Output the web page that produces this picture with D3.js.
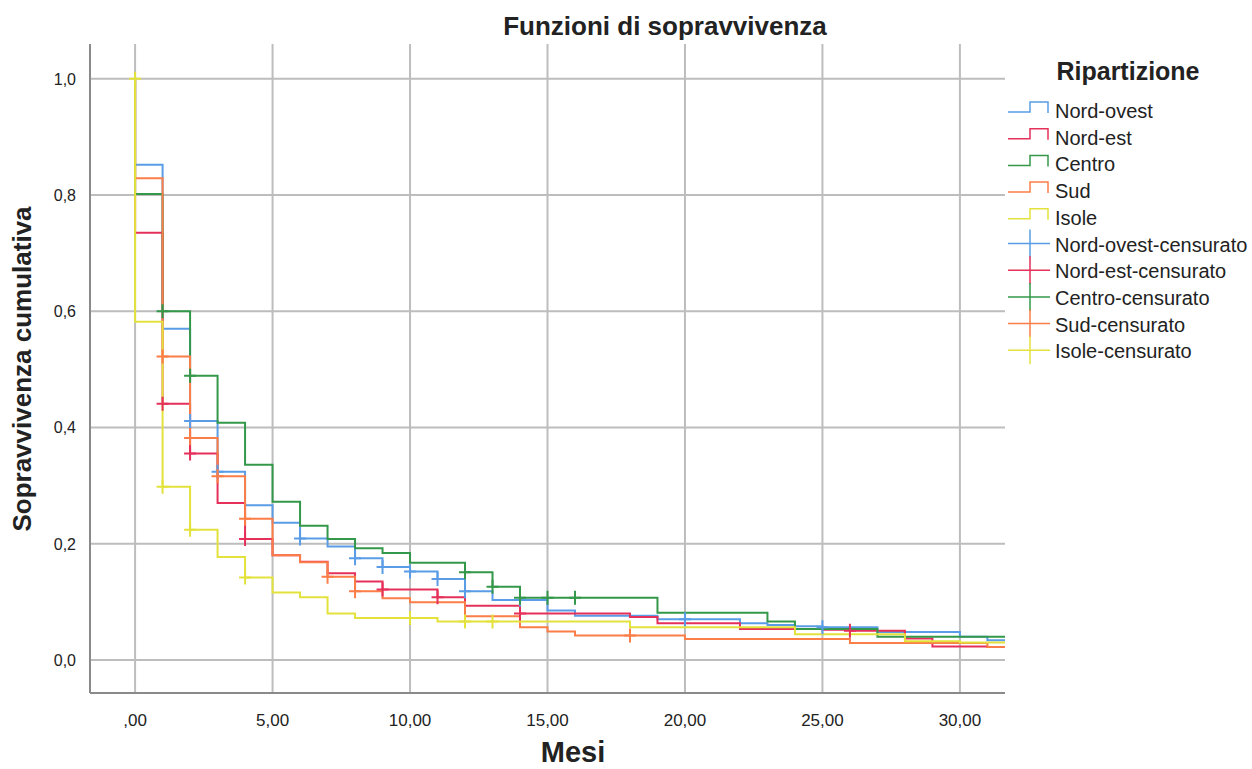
<!DOCTYPE html>
<html>
<head>
<meta charset="utf-8">
<script src="https://cdn.jsdelivr.net/npm/d3@7"></script>
<style>
  body { margin: 0; background: #fff; }
  text { font-family: "Liberation Sans", Arial, sans-serif; fill: #222; }
</style>
</head>
<body>
<svg id="chart" width="1252" height="769"></svg>
<script>
// survival estimate for months 0..31 (value holds from month k to k+1)
var months = d3.range(0, 32);
var nordOvest = [0.852, 0.570, 0.411, 0.324, 0.266, 0.236, 0.209, 0.195, 0.175, 0.160, 0.152, 0.139, 0.118, 0.103, 0.103, 0.085, 0.076, 0.076, 0.076, 0.070, 0.070, 0.070, 0.063, 0.060, 0.058, 0.056, 0.056, 0.048, 0.048, 0.048, 0.040, 0.034];
var nordEst   = [0.735, 0.441, 0.355, 0.270, 0.208, 0.180, 0.169, 0.149, 0.135, 0.121, 0.121, 0.108, 0.093, 0.093, 0.080, 0.080, 0.080, 0.080, 0.074, 0.063, 0.063, 0.063, 0.053, 0.053, 0.053, 0.052, 0.050, 0.050, 0.037, 0.023, 0.023, 0.022];
var centro    = [0.802, 0.600, 0.489, 0.408, 0.336, 0.272, 0.231, 0.208, 0.192, 0.184, 0.167, 0.167, 0.151, 0.126, 0.107, 0.107, 0.107, 0.107, 0.107, 0.081, 0.081, 0.081, 0.081, 0.066, 0.053, 0.053, 0.053, 0.040, 0.040, 0.040, 0.040, 0.040];
var sud       = [0.829, 0.522, 0.382, 0.316, 0.243, 0.180, 0.168, 0.143, 0.118, 0.106, 0.099, 0.099, 0.075, 0.075, 0.056, 0.049, 0.042, 0.042, 0.042, 0.042, 0.036, 0.036, 0.036, 0.036, 0.036, 0.036, 0.029, 0.029, 0.029, 0.029, 0.029, 0.022];
var isole     = [0.582, 0.298, 0.224, 0.177, 0.142, 0.116, 0.108, 0.080, 0.072, 0.072, 0.072, 0.066, 0.066, 0.066, 0.066, 0.066, 0.066, 0.066, 0.056, 0.056, 0.056, 0.056, 0.056, 0.056, 0.044, 0.044, 0.044, 0.044, 0.032, 0.032, 0.030, 0.030];

// months with censored cases
var censNordOvest = [2, 3, 6, 8, 9, 10, 11, 12, 14, 20, 25];
var censNordEst   = [1, 2, 4, 9, 11, 14, 26];
var censCentro    = [1, 2, 12, 13, 14, 15, 16];
var censSud       = [1, 2, 3, 4, 7, 8, 18];
var censIsole     = [1, 2, 4, 10, 12, 13];

var groupNames = ["Nord-ovest", "Nord-est", "Centro", "Sud", "Isole"];
var groupColors = ["#5a9de6", "#e5305a", "#34984a", "#fb7d47", "#e3e23c"];
var xTicks = [0, 5, 10, 15, 20, 25, 30];
var yTicks = [0, 0.2, 0.4, 0.6, 0.8, 1.0];

var series = [nordOvest, nordEst, centro, sud, isole];
var censored = [censNordOvest, censNordEst, censCentro, censSud, censIsole];

var svg = d3.select("#chart");
var pLeft = 90, pRight = 1005, pTop = 44, pBottom = 693;

var x = d3.scaleLinear().domain([-1.64, 31.64]).range([pLeft, pRight]);
var y = d3.scaleLinear().domain([-0.057, 1.06]).range([pBottom, pTop]);

svg.append("defs").append("clipPath").attr("id", "plotclip")
  .append("rect").attr("x", pLeft).attr("y", pTop - 10)
  .attr("width", pRight - pLeft).attr("height", pBottom - pTop + 10);

// grid
svg.append("g").selectAll("line").data(yTicks).enter().append("line")
  .attr("x1", pLeft).attr("x2", pRight)
  .attr("y1", function(d) { return y(d); }).attr("y2", function(d) { return y(d); })
  .attr("stroke", "#bdbdbd").attr("stroke-width", 2);
svg.append("g").selectAll("line").data(xTicks).enter().append("line")
  .attr("x1", function(d) { return x(d); }).attr("x2", function(d) { return x(d); })
  .attr("y1", pTop).attr("y2", pBottom)
  .attr("stroke", "#bdbdbd").attr("stroke-width", 2);

// axes frame
svg.append("line").attr("x1", pLeft).attr("x2", pLeft).attr("y1", pTop).attr("y2", pBottom)
  .attr("stroke", "#8a8a8a").attr("stroke-width", 2);
svg.append("line").attr("x1", pLeft).attr("x2", pRight).attr("y1", pBottom).attr("y2", pBottom)
  .attr("stroke", "#8a8a8a").attr("stroke-width", 2);

// tick labels
svg.append("g").selectAll("text").data(yTicks).enter().append("text")
  .attr("x", pLeft - 14).attr("y", function(d) { return y(d) + 6; })
  .attr("text-anchor", "end").attr("font-size", 16)
  .text(function(d) { return d.toFixed(1).replace(".", ","); });
svg.append("g").selectAll("text").data(xTicks).enter().append("text")
  .attr("x", function(d) { return x(d); }).attr("y", pBottom + 33)
  .attr("text-anchor", "middle").attr("font-size", 17)
  .text(function(d) { return d === 0 ? ",00" : d.toFixed(2).replace(".", ","); });

// titles
svg.append("text").attr("x", 665).attr("y", 35).attr("text-anchor", "middle")
  .attr("font-size", 26).attr("font-weight", "bold").text("Funzioni di sopravvivenza");
svg.append("text").attr("x", 573).attr("y", 762).attr("text-anchor", "middle")
  .attr("font-size", 29).attr("font-weight", "bold").text("Mesi");
svg.append("text").attr("transform", "translate(31," + 369 + ") rotate(-90)")
  .attr("text-anchor", "middle").attr("font-size", 26).attr("font-weight", "bold")
  .text("Sopravvivenza cumulativa");

// survival curves
var line = d3.line()
  .x(function(d) { return x(d[0]); })
  .y(function(d) { return y(d[1]); })
  .curve(d3.curveStepAfter);

var plot = svg.append("g").attr("clip-path", "url(#plotclip)");

series.forEach(function(vals, i) {
  var pts = [[0, 1]];
  months.forEach(function(m, k) { pts.push([m, vals[k]]); });
  pts.push([x.domain()[1], vals[vals.length - 1]]);
  plot.append("path").datum(pts)
    .attr("d", line)
    .attr("fill", "none")
    .attr("stroke", groupColors[i])
    .attr("stroke-width", 2);
});

// censor marks
var censorGroup = plot.append("g");
censored.forEach(function(list, i) {
  var vals = series[i];
  censorGroup.selectAll(null).data(list).enter().append("path")
    .attr("d", function(m) {
      var cx = x(m), cy = y(vals[m]);
      return "M" + (cx - 6) + "," + cy + "H" + (cx + 6) + "M" + cx + "," + (cy - 7) + "V" + (cy + 7);
    })
    .attr("stroke", groupColors[i]).attr("stroke-width", 2).attr("fill", "none");
});
// censored case at the start of Isole
censorGroup.append("path")
  .attr("d", "M" + (x(0) - 6) + "," + y(1) + "H" + (x(0) + 6) + "M" + x(0) + "," + (y(1) - 7) + "V" + (y(1) + 7))
  .attr("stroke", groupColors[4]).attr("stroke-width", 2);

// legend
var legend = svg.append("g");
legend.append("text").attr("x", 1128).attr("y", 80).attr("text-anchor", "middle")
  .attr("font-size", 25).attr("font-weight", "bold").text("Ripartizione");

var legendItems = groupNames.map(function(n, i) { return { name: n, color: groupColors[i], cens: false }; })
  .concat(groupNames.map(function(n, i) { return { name: n + "-censurato", color: groupColors[i], cens: true }; }));

legendItems.forEach(function(it, i) {
  var base = 118 + i * 26.7;
  if (it.cens) {
    var cy = base - 8;
    legend.append("path")
      .attr("d", "M1008," + cy + "H1050M1030," + (cy - 14) + "V" + (cy + 14))
      .attr("stroke", it.color).attr("stroke-width", 1.5).attr("fill", "none");
  } else {
    legend.append("path")
      .attr("d", "M1008," + (base - 6) + "H1030V" + (base - 16) + "H1048V" + (base - 5))
      .attr("stroke", it.color).attr("stroke-width", 1.5).attr("fill", "none");
  }
  legend.append("text").attr("x", 1055).attr("y", base)
    .attr("font-size", 20).text(it.name);
});
</script>
</body>
</html>
